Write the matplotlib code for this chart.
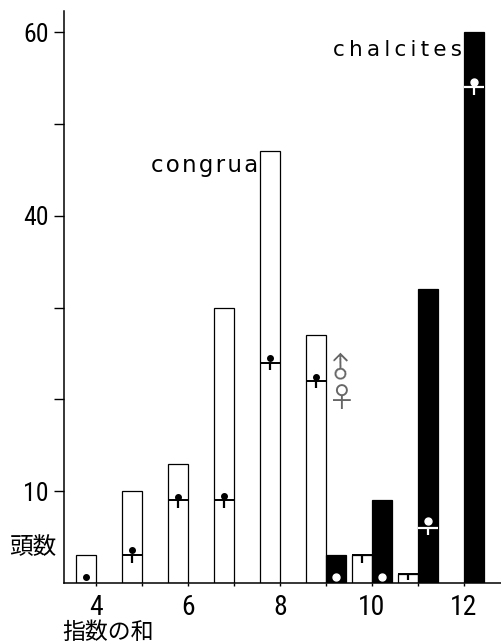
import numpy as np
import matplotlib.pyplot as plt
from matplotlib import font_manager

# congrua (open bars) and chalcites (filled bars)
congrua_x = [4, 5, 6, 7, 8, 9, 10, 11]
congrua_n = [3, 10, 13, 30, 47, 27, 3, 1]
congrua_female = [0, 3, 9, 9, 24, 22, 3, 1]
congrua_dot = [0.65, 3.6, 9.4, 9.5, 24.5, 22.4, np.nan, np.nan]

chalcites_x = [9, 10, 11, 12]
chalcites_n = [3, 9, 32, 60]
chalcites_female = [0, 0, 6, 54]
chalcites_dot = [0.65, 0.65, 6.75, 54.6]

yticks = [10, 20, 30, 40, 50, 60]
ytick_labels = ['10', '', '', '40', '', '60']
xticks = [4, 5, 6, 7, 8, 9, 10, 11, 12]
xtick_labels = ['4', '', '6', '', '8', '', '10', '', '12']

# narrow face for the numbers if one is around
names = {f.name for f in font_manager.fontManager.ttflist}
num_font = 'DejaVu Sans'
for cand in ['Roboto Condensed', 'Liberation Sans Narrow', 'Archivo Narrow', 'PT Sans Narrow']:
    if cand in names:
        num_font = cand
        break
plt.rcParams['font.family'] = ['DejaVu Sans', 'Noto Sans CJK JP']

fig = plt.figure(figsize=(5.02, 6.43), dpi=100)
ax = fig.add_axes([0.1275, 0.0933, 0.8725, 0.8896])

bw = 0.43
ax.bar(congrua_x, congrua_n, width=-bw, align='edge', color='white',
       edgecolor='black', lw=0.9, zorder=2)
ax.bar(chalcites_x, chalcites_n, width=bw, align='edge', color='black',
       edgecolor='black', lw=0.9, zorder=2)

## sex split line with small tick under it
for x, f in zip(congrua_x, congrua_female):
    if f > 0:
        ax.hlines(f, x - bw, x, color='black', lw=1.4, zorder=3)
        ax.vlines(x - bw / 2, max(f - 0.8, 0.3), f, color='black', lw=1.6, zorder=3)
for x, f in zip(chalcites_x, chalcites_female):
    if f > 0:
        ax.hlines(f, x, x + bw, color='white', lw=1.6, zorder=3)
        ax.vlines(x + bw / 2, f - 0.8, f, color='white', lw=1.6, zorder=3)

ax.plot(np.array(congrua_x) - bw / 2, congrua_dot, 'o', ms=4, color='black',
        ls='none', zorder=4)
ax.plot(np.array(chalcites_x) + bw / 2, chalcites_dot, 'o', ms=5, color='white',
        ls='none', zorder=4)

ax.set_xlim(3.30, 12.83)
ax.set_ylim(0, 62.3)
for s in ['top', 'right']:
    ax.spines[s].set_visible(False)
for s in ['left', 'bottom']:
    ax.spines[s].set_linewidth(1.1)

ax.set_yticks(yticks)
ax.set_yticklabels(ytick_labels, fontfamily=num_font, fontsize=18.5)
ax.set_xticks(xticks)
ax.set_xticklabels(xtick_labels, fontfamily=num_font, fontsize=20)
ax.tick_params(axis='y', length=7, width=1, pad=4)
ax.tick_params(axis='x', length=2.5, width=1, pad=5.5)

ax.text(7.52, 45.5, 'c\u200ao\u200an\u200ag\u200ar\u200au\u200aa', ha='right', va='center', fontsize=16.5)
ax.text(11.96, 58.1, 'c\u2009h\u2009a\u2009l\u2009c\u2009i\u2009t\u2009e\u2009s', ha='right', va='center', fontsize=15.5)
ax.text(9.35, 23.6, '♂', rotation=45, ha='center', va='center', fontsize=20,
        color='#666666', family=['Noto Sans CJK JP'])
ax.text(9.35, 20.0, '♀', ha='center', va='center', fontsize=20, color='#666666',
        family=['Noto Sans CJK JP'])

fig.text(33 / 502, 1 - 548 / 643, '頭数', ha='center', va='center', fontsize=17,
         family=['Noto Sans CJK JP'])
fig.text(108 / 502, 1 - 632 / 643, '指数の和', ha='center', va='center', fontsize=16.5,
         family=['Noto Sans CJK JP'])

fig.savefig('out.png', dpi=100)
